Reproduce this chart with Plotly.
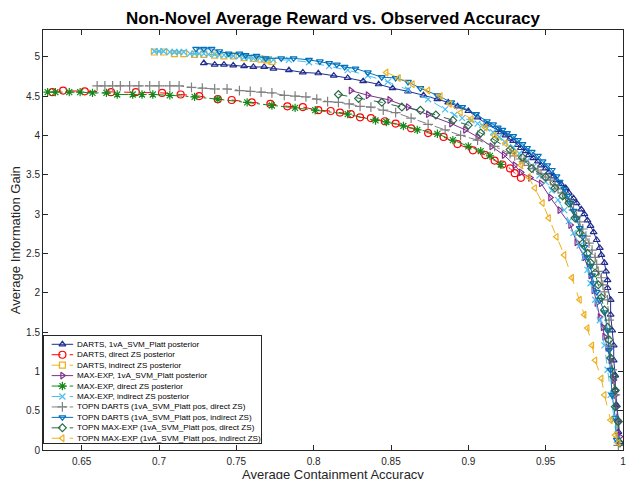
import plotly.graph_objects as go

# ---- data ----
names = [
    "DARTS, 1vA_SVM_Platt posterior",
    "DARTS, direct ZS posterior",
    "DARTS, indirect ZS posterior",
    "MAX-EXP, 1vA_SVM_Platt posterior",
    "MAX-EXP, direct ZS posterior",
    "MAX-EXP, indirect ZS posterior",
    "TOPN DARTS (1vA_SVM_Platt pos, direct ZS)",
    "TOPN DARTS (1vA_SVM_Platt pos, indirect ZS)",
    "TOPN MAX-EXP (1vA_SVM_Platt pos, direct ZS)",
    "TOPN MAX-EXP (1vA_SVM_Platt pos, indirect ZS)",
]

darts_1va_x = [0.729,0.736,0.742,0.748,0.755,0.761,0.768,0.774,0.784,0.793,0.803,0.813,0.822,0.832,0.842,0.851,0.861,0.871,0.880,0.887,0.893,0.900,0.906,0.912,
               0.919,0.921,0.924,0.927,0.929,0.932,0.934,0.937,0.939,0.942,0.945,0.947,0.950,0.952,0.955,0.957,0.960,0.963,0.965,0.968,0.970,0.973,0.975,0.977,0.979,0.981,0.983,0.985,0.986,0.988,0.989,0.990,0.990,0.992,
               0.992,0.993,0.994,0.994,0.995,0.995,0.996,0.997,0.997,0.998]
darts_1va_y = [4.92,4.90,4.90,4.89,4.88,4.87,4.87,4.85,4.83,4.80,4.79,4.76,4.73,4.69,4.65,4.60,4.56,4.51,4.46,4.42,4.37,4.31,4.23,4.14,
               4.07,4.04,4.00,3.96,3.93,3.88,3.84,3.80,3.75,3.71,3.67,3.62,3.58,3.53,3.48,3.43,3.38,3.33,3.27,3.20,3.14,3.06,3.00,2.92,2.85,2.77,2.67,2.57,2.48,2.38,2.27,2.16,2.06,1.91,
               1.72,1.52,1.33,1.14,0.95,0.76,0.57,0.38,0.23,0.10]

darts_direct_x = [0.631,0.638,0.652,0.669,0.685,0.702,0.714,0.726,0.738,0.747,0.760,0.772,0.783,0.793,0.803,0.811,0.817,0.824,0.830,0.837,0.846,0.853,0.863,0.874,0.884,0.893,0.903,0.911,0.917,0.922,0.927,0.930,0.934]
darts_direct_y = [4.55,4.57,4.56,4.55,4.55,4.54,4.52,4.50,4.46,4.45,4.42,4.40,4.37,4.36,4.32,4.31,4.29,4.27,4.23,4.22,4.18,4.15,4.09,4.03,3.98,3.89,3.81,3.75,3.68,3.63,3.58,3.52,3.46]

darts_indirect_x = [0.697,0.703,0.710,0.716,0.723,0.729,0.736,0.742,0.748,0.755,0.761,0.766,0.770,0.773]
darts_indirect_y = [5.06,5.06,5.04,5.04,5.03,5.03,5.02,5.01,5.01,4.99,4.98,4.97,4.96,4.94]

maxexp_1va_x = [0.824,0.835,0.849,0.861,0.874,0.889,0.898,0.906,0.915,0.923,0.930,0.934,0.940,0.947,0.953,0.959,0.966,0.970,0.975,0.979,0.981,0.983,0.985,0.987,0.988,0.990,0.992,0.994,0.995,0.996,0.997,0.998]
maxexp_1va_y = [4.57,4.51,4.45,4.36,4.27,4.15,4.07,3.98,3.86,3.75,3.62,3.53,3.46,3.39,3.21,3.05,2.86,2.64,2.45,2.22,2.03,1.87,1.69,1.56,1.44,1.30,1.14,0.89,0.70,0.55,0.36,0.17]

maxexp_direct_x = [0.628,0.633,0.642,0.649,0.657,0.666,0.673,0.683,0.689,0.696,0.707,0.723,0.738,0.757,0.773,0.788,0.801,0.822,0.840,0.847,0.858,0.867,0.880,0.890,0.900,0.908,0.914,0.921]
maxexp_direct_y = [4.55,4.55,4.55,4.55,4.54,4.54,4.52,4.52,4.52,4.52,4.51,4.49,4.46,4.42,4.38,4.35,4.32,4.27,4.19,4.17,4.12,4.07,4.02,3.94,3.86,3.80,3.74,3.63]

maxexp_indirect_x = [0.697,0.700,0.703,0.707,0.710,0.713,0.716,0.720,0.723,0.726,0.729,0.732,0.736,0.739,0.742,0.745,0.748,0.752,0.755,0.758,0.761,0.765,0.768,0.771,0.774,
                     0.784,0.797,0.810,0.822,0.835,0.848,0.861,0.874,0.885,0.891,0.896,0.902,0.906,0.909,0.912,0.916,0.920,0.924,0.929,0.933,0.938,0.942,0.946,0.950,0.954,0.958,0.962,0.965,0.968,0.972,0.975,0.977,0.979,
                     0.982,0.985,0.988,0.990,0.992,0.994,0.996]
maxexp_indirect_y = [5.07,5.07,5.07,5.06,5.06,5.06,5.06,5.04,5.04,5.04,5.04,5.03,5.03,5.02,5.02,5.02,5.01,5.01,4.99,4.99,4.98,4.98,4.97,4.97,4.96,
                     4.96,4.93,4.88,4.83,4.76,4.68,4.58,4.46,4.33,4.26,4.22,4.19,4.15,4.13,4.09,4.04,3.98,3.91,3.85,3.77,3.68,3.60,3.49,3.41,3.30,3.18,3.05,2.91,2.76,2.60,2.45,2.29,2.12,
                     1.91,1.65,1.33,1.02,0.70,0.38,0.13]

topn_darts_direct_x = [0.660,0.665,0.670,0.675,0.681,0.687,0.694,0.700,0.707,0.713,0.721,0.728,0.736,0.744,0.752,0.759,0.766,0.773,0.781,0.788,0.795,0.802,0.809,0.816,0.823,0.830,0.837,0.845,0.853,0.863,0.874,0.885,0.895,0.906,0.917,
                       0.927,0.930,0.934,0.936,0.939,0.942,0.945,0.947,0.950,0.953,0.956,0.958,0.961,0.963,0.966,0.968,0.970,0.972,0.974,0.976,0.978,0.980,0.982,0.983,0.984,0.986,0.987,0.988,0.990,
                       0.991,0.992,0.993,0.995,0.996,0.997]
topn_darts_direct_y = [4.63,4.63,4.63,4.63,4.63,4.63,4.63,4.63,4.63,4.63,4.61,4.60,4.59,4.59,4.57,4.56,4.55,4.54,4.51,4.50,4.49,4.46,4.43,4.42,4.40,4.37,4.36,4.32,4.29,4.22,4.14,4.07,4.00,3.94,3.86,
                       3.77,3.74,3.70,3.67,3.62,3.58,3.56,3.51,3.47,3.43,3.37,3.32,3.27,3.20,3.13,3.05,2.97,2.90,2.81,2.72,2.63,2.54,2.45,2.36,2.27,2.19,2.10,2.01,1.91,
                       1.65,1.33,1.02,0.70,0.38,0.06]

topn_darts_indirect_x = [0.724,0.729,0.734,0.739,0.745,0.752,0.756,0.763,0.769,0.779,0.787,0.797,0.804,0.810,0.815,0.820,0.827,0.835,0.844,0.853,0.861,0.869,0.880,0.889,0.896,0.905,
                         0.912,0.916,0.919,0.922,0.925,0.929,0.932,0.935,0.938,0.941,0.945,0.948,0.951,0.954,0.957,0.959,0.962,0.964,0.966,0.968,0.970,0.972,0.974,0.975,0.977,0.979,0.980,0.981,0.983,0.985,
                         0.988,0.990,0.991,0.992,0.993,0.995,0.996]
topn_darts_indirect_y = [5.10,5.10,5.10,5.07,5.04,5.04,5.02,5.01,4.98,4.98,4.98,4.96,4.94,4.92,4.90,4.87,4.85,4.80,4.74,4.73,4.68,4.60,4.51,4.42,4.36,4.27,
                         4.18,4.14,4.10,4.07,4.03,3.99,3.94,3.89,3.84,3.79,3.74,3.67,3.62,3.56,3.48,3.41,3.32,3.23,3.14,3.04,2.94,2.82,2.71,2.58,2.45,2.34,2.22,2.12,2.01,1.91,
                         1.75,1.52,1.27,1.02,0.70,0.41,0.13]

topn_maxexp_direct_x = [0.816,0.829,0.844,0.857,0.869,0.879,0.890,0.900,0.908,0.917,0.927,0.935,0.941,0.950,0.956,0.961,0.965,0.969,0.972,0.974,0.977,0.979,0.982,0.984,0.986,0.988,0.990,0.991,0.992,0.994,0.995,0.995,0.997,0.998]
topn_maxexp_direct_y = [4.52,4.47,4.42,4.36,4.32,4.26,4.19,4.13,4.03,3.94,3.82,3.72,3.58,3.47,3.33,3.23,3.14,2.95,2.76,2.63,2.50,2.38,2.25,2.10,1.94,1.78,1.56,1.40,1.17,0.93,0.76,0.55,0.36,0.09]

topn_maxexp_indirect_x = [0.847,0.855,0.864,0.874,0.882,0.888,0.895,0.902,0.911,0.917,0.924,0.930,0.934,0.939,0.943,0.948,0.952,0.957,0.962,0.967,0.972,0.975,0.977,0.980,0.982,0.986,0.988,0.992,0.995,0.997]
topn_maxexp_indirect_y = [4.80,4.73,4.65,4.57,4.50,4.40,4.29,4.21,4.10,4.00,3.90,3.77,3.62,3.47,3.33,3.14,2.95,2.71,2.48,2.19,1.91,1.72,1.55,1.33,1.14,0.91,0.70,0.38,0.19,0.09]

x_tick_vals = [0.65, 0.7, 0.75, 0.8, 0.85, 0.9, 0.95, 1.0]
x_tick_text = ["0.65", "0.7", "0.75", "0.8", "0.85", "0.9", "0.95", "1"]
y_tick_vals = [0, 0.5, 1, 1.5, 2, 2.5, 3, 3.5, 4, 4.5, 5]
y_tick_text = ["0", "0.5", "1", "1.5", "2", "2.5", "3", "3.5", "4", "4.5", "5"]

series_x = [darts_1va_x, darts_direct_x, darts_indirect_x, maxexp_1va_x, maxexp_direct_x,
            maxexp_indirect_x, topn_darts_direct_x, topn_darts_indirect_x,
            topn_maxexp_direct_x, topn_maxexp_indirect_x]
series_y = [darts_1va_y, darts_direct_y, darts_indirect_y, maxexp_1va_y, maxexp_direct_y,
            maxexp_indirect_y, topn_darts_direct_y, topn_darts_indirect_y,
            topn_maxexp_direct_y, topn_maxexp_indirect_y]

# ---- styles ----
colors = ["#1f2d8c", "#ff0000", "#edb120", "#7e2f8e", "#14891a",
          "#4dbeee", "#808080", "#0072bd", "#2a6b45", "#edb120"]
symbols = ["triangle-up-open", "circle-open", "square-open", "triangle-right-open",
           "asterisk-open", "x-thin-open", "cross-thin-open", "triangle-down-open",
           "diamond-open", "triangle-left-open"]
dashes = ["solid", "dash", "dash", "solid", "dashdot", "dash", "dashdot", "solid",
          "dash", "dash"]
sizes = [6, 7, 6, 6, 7, 6, 7, 6, 6, 6]
FONT = "Liberation Sans, Arial, Helvetica"

W, H = 627, 479

fig = go.Figure()
for i in range(len(names)):
    fig.add_trace(go.Scatter(
        x=series_x[i], y=series_y[i], name=names[i], mode="lines+markers",
        showlegend=False,
        line=dict(color=colors[i], width=1, dash=dashes[i]),
        marker=dict(symbol=symbols[i], size=sizes[i], color=colors[i],
                    line=dict(color=colors[i], width=1.2)),
    ))

# ---- compact legend (drawn on its own small axes, one row per series) ----
row0, row_step = 8.3, 10.44
for i in range(len(names)):
    ry = row0 + row_step * i
    fig.add_trace(go.Scatter(
        x=[7.7, 29.3], y=[ry, ry], mode="lines", xaxis="x2", yaxis="y2",
        showlegend=False, hoverinfo="skip",
        line=dict(color=colors[i], width=1, dash=dashes[i])))
    fig.add_trace(go.Scatter(
        x=[18.5], y=[ry], mode="markers", xaxis="x2", yaxis="y2",
        showlegend=False, hoverinfo="skip",
        marker=dict(symbol=symbols[i], size=sizes[i], color=colors[i],
                    line=dict(color=colors[i], width=1.2))))

legend_annots = [
    dict(text=names[i], x=31, y=row0 + row_step * i, xref="x2", yref="y2",
         showarrow=False, xanchor="left", yanchor="middle",
         font=dict(size=8.1, color="black", family=FONT))
    for i in range(len(names))
]

axis_common = dict(showline=True, linecolor="#262626", linewidth=1, mirror="ticks",
                   ticks="inside", ticklen=5, tickcolor="#262626", showgrid=False,
                   zeroline=False, ticklabeloverflow="allow",
                   tickfont=dict(family=FONT, size=10, color="#262626"))

fig.update_layout(
    width=W, height=H,
    margin=dict(l=43, r=1, t=30, b=29),
    paper_bgcolor="white", plot_bgcolor="white",
    font=dict(family=FONT, color="#262626"),
    title=dict(text="<b>Non-Novel Average Reward vs. Observed Accuracy</b>",
               x=0.5, xref="paper", y=1 - 18 / H, yref="container",
               xanchor="center", yanchor="middle",
               font=dict(size=17, color="black", family=FONT)),
    xaxis=dict(range=[0.625, 1.0], tickvals=x_tick_vals, ticktext=x_tick_text,
               ticklabelstandoff=2, **axis_common),
    yaxis=dict(range=[0, 5.34], tickvals=y_tick_vals, ticktext=y_tick_text, **axis_common),
    xaxis2=dict(domain=[1 / 583, 219 / 583], range=[0, 218], anchor="y2",
                showline=True, mirror=True, linecolor="#262626", linewidth=1,
                showticklabels=False, ticks="", showgrid=False, zeroline=False),
    yaxis2=dict(domain=[7 / 420, 114 / 420], range=[107, 0], anchor="x2",
                showline=True, mirror=True, linecolor="#262626", linewidth=1,
                showticklabels=False, ticks="", showgrid=False, zeroline=False),
    showlegend=False,
    annotations=[
        dict(text="Average Containment Accuracy", x=0.5, y=(450 - 474) / 420,
             xref="paper", yref="paper", showarrow=False, xanchor="center",
             yanchor="middle", font=dict(size=13, color="#262626")),
        dict(text="Average Information Gain", x=(15 - 43) / 583, y=0.5,
             xref="paper", yref="paper", showarrow=False, xanchor="center",
             yanchor="middle", textangle=-90, font=dict(size=13, color="#262626")),
    ] + legend_annots,
)

# remove the default 8px page margin so the 627x479 figure fills the window
fig.write_html("out.html", config={"displayModeBar": False},
               post_script="document.body.style.margin='0px';document.documentElement.style.overflow='hidden';")
